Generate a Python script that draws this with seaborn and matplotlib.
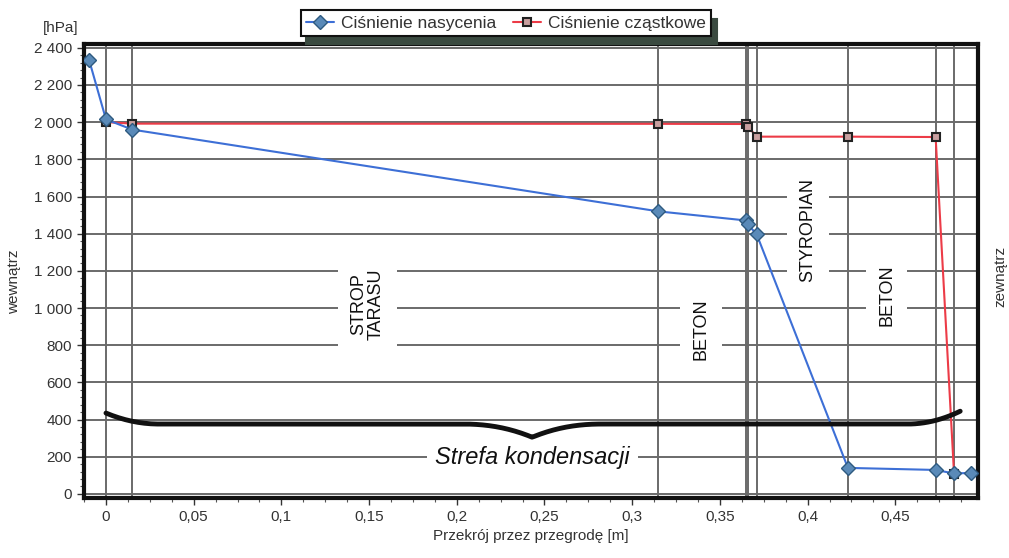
import numpy as np
import pandas as pd
import matplotlib
matplotlib.use("Agg")
import matplotlib.pyplot as plt
from matplotlib.ticker import FuncFormatter, MultipleLocator
import seaborn as sns

# ---- data ----
sat_x = [-0.0097, 0.0, 0.015, 0.315, 0.365, 0.366, 0.371, 0.423, 0.473, 0.4835, 0.493]
sat_p = [2337, 2015, 1960, 1520, 1471, 1450, 1396, 140, 129, 110, 113]
part_x = [0.0, 0.015, 0.315, 0.365, 0.366, 0.371, 0.423, 0.473, 0.4835]
part_p = [2000, 1992, 1991, 1990, 1976, 1922, 1922, 1920, 108]
layer_bounds = [0.0, 0.015, 0.315, 0.365, 0.366, 0.371, 0.423, 0.473, 0.4835]
layer_names = ["STROP\nTARASU", "BETON", "STYROPIAN", "BETON"]
layer_label_x = [0.149, 0.339, 0.400, 0.445]
layer_label_y = [1020, 886, 1420, 1068]
series_names = ["Ciśnienie nasycenia", "Ciśnienie cząstkowe"]
x_ticks = [0, 0.05, 0.1, 0.15, 0.2, 0.25, 0.3, 0.35, 0.4, 0.45]
y_ticks = list(range(0, 2401, 200))

sns.set_theme(style="white")
plt.rcParams['font.family'] = ['Liberation Sans', 'DejaVu Sans']

fig = plt.figure(figsize=(10.09, 5.58), dpi=100)
ax = fig.add_axes([0.0833, 0.1075, 0.969 - 0.0833, 0.921 - 0.1075])

grid_c = "#6a6a6a"
for v in y_ticks:
    ax.axhline(v, color=grid_c, lw=1.4, zorder=1)
for v in layer_bounds:
    ax.axvline(v, color=grid_c, lw=1.4, zorder=1)

sat_df = pd.DataFrame({"x": sat_x, "p": sat_p})
part_df = pd.DataFrame({"x": part_x, "p": part_p})

sns.lineplot(data=sat_df, x="x", y="p", sort=False, ax=ax, color="#3d6fd6", lw=1.5,
             marker="D", markersize=7, markerfacecolor="#5a8ab8", markeredgecolor="#2e5a80",
             markeredgewidth=1.0, label=series_names[0], zorder=4)
sns.lineplot(data=part_df, x="x", y="p", sort=False, ax=ax, color="#ec3b47", lw=1.5,
             marker="s", markersize=6, markerfacecolor="#c9a0a0", markeredgecolor="#222222",
             markeredgewidth=1.5, label=series_names[1], zorder=3)

# layer labels
for name, lx, ly in zip(layer_names, layer_label_x, layer_label_y):
    ax.text(lx, ly, name, rotation=90, ha="center", va="center", fontsize=13,
            color="#111111", linespacing=1.0, zorder=2,
            bbox=dict(facecolor="white", edgecolor="none", pad=9))

# condensation brace
bx0, bx1, bmid = 0.0, 0.487, 0.243
by, bdip, bend = 376, 305, 435
xs = np.linspace(bx0, bx1, 400)
def brace(x):
    y = np.full_like(x, by, dtype=float)
    left = np.clip((x - bx0) / 0.03, 0, 1)
    y += (bend - by) * (1 - left) ** 2
    right = np.clip((bx1 - x) / 0.03, 0, 1)
    y += (bend + 10 - by) * (1 - right) ** 2
    d = np.abs(x - bmid)
    y -= (by - bdip) * np.clip(1 - d / 0.04, 0, 1) ** 2.2
    return y
ax.plot(xs, brace(xs), color="#111111", lw=3.5, solid_capstyle="round", zorder=5)
ax.text(0.243, 195, "Strefa kondensacji", style="italic", fontsize=17,
        ha="center", va="center", color="#111111", zorder=2,
        bbox=dict(facecolor="white", edgecolor="none", pad=6))

ax.set_xlim(-0.0125, 0.497)
ax.set_ylim(-22, 2420)
ax.set_xticks(x_ticks)
ax.set_yticks(y_ticks)
ax.xaxis.set_minor_locator(MultipleLocator(0.0125))
ax.yaxis.set_minor_locator(MultipleLocator(40))
ax.xaxis.set_major_formatter(FuncFormatter(lambda v, p: ("%g" % round(v, 3)).replace(".", ",")))
ax.yaxis.set_major_formatter(FuncFormatter(lambda v, p: "{:,}".format(int(v)).replace(",", " ")))
ax.tick_params(axis="both", which="major", length=5, width=1, color="#333333",
               labelsize=11, labelcolor="#333333", direction="out", bottom=True, left=True)
ax.tick_params(axis="both", which="minor", length=3, width=0.8, color="#555555",
               direction="out", bottom=True, left=True)
for s in ax.spines.values():
    s.set_visible(True)
    s.set_color("#111111")
    s.set_linewidth(3)

ax.set_xlabel("Przekrój przez przegrodę [m]", fontsize=11, color="#333333", labelpad=4)
ax.set_ylabel("")
fig.text(0.014, 0.495, "wewnątrz", rotation=90, ha="center", va="center", fontsize=11, color="#333333")
fig.text(0.991, 0.505, "zewnątrz", rotation=90, ha="center", va="center", fontsize=11, color="#333333")
fig.text(0.060, 0.950, "[hPa]", ha="center", va="center", fontsize=11, color="#333333")

leg = ax.legend(loc="upper center", bbox_to_anchor=(0.5015, 0.997), bbox_transform=fig.transFigure,
                ncol=2, frameon=True, fancybox=False, shadow={"color": "#3a4a40", "alpha": 1.0, "ox": 4, "oy": -6},
                fontsize=12.5, handlelength=1.6, columnspacing=1.0, borderpad=0.3,
                handletextpad=0.4)
leg.get_frame().set_edgecolor("#111111")
leg.get_frame().set_linewidth(1.5)
for t in leg.get_texts():
    t.set_color("#333333")

fig.savefig("out.png", dpi=100)
